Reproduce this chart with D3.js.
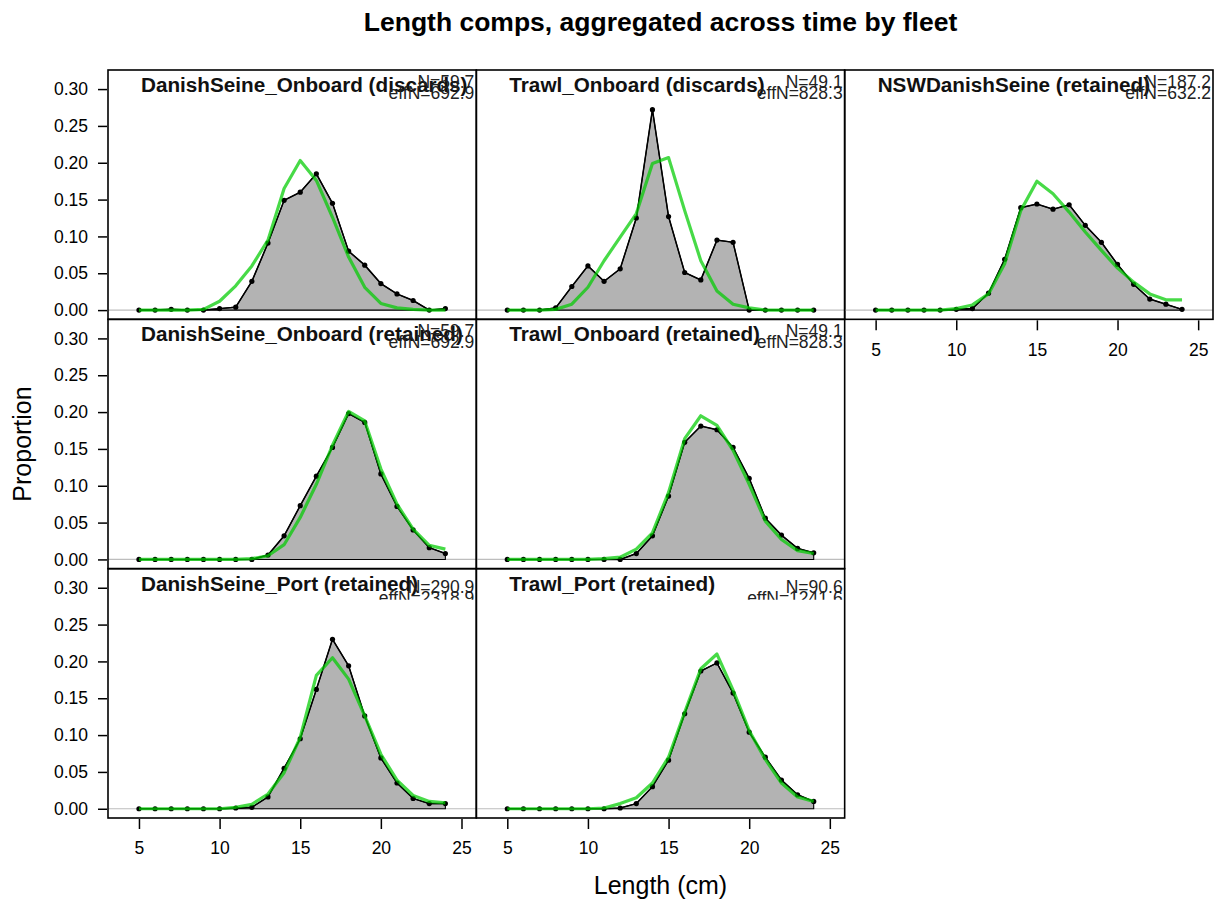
<!DOCTYPE html>
<html>
<head>
<meta charset="utf-8">
<script src="https://cdn.jsdelivr.net/npm/d3@7"></script>
<style>
  html, body { margin: 0; padding: 0; background: #ffffff; }
  svg { display: block; font-family: "Liberation Sans", Arial, Helvetica, sans-serif; }
</style>
</head>
<body>
<svg id="chart" width="1221" height="909"></svg>
<script>
// Length bins (cm)
const lengthBins = [5, 6, 7, 8, 9, 10, 11, 12, 13, 14, 15, 16, 17, 18, 19, 20, 21, 22, 23, 24];

// Panel titles, in reading order
const panelTitles = [
  "DanishSeine_Onboard (discards)",
  "Trawl_Onboard (discards)",
  "NSWDanishSeine (retained)",
  "DanishSeine_Onboard (retained)",
  "Trawl_Onboard (retained)",
  "DanishSeine_Port (retained)",
  "Trawl_Port (retained)"
];

// Sample sizes shown at the top right of each panel
const sampleN = [59.7, 49.1, 187.2, 59.7, 49.1, 290.9, 90.6];
const effectiveN = [692.9, 828.3, 632.2, 692.9, 828.3, 2318.9, 1241.6];

// Observed proportions by length bin
const obsDSOnboardDiscards = [0, 0, 0.001, 0, 0, 0.002, 0.004, 0.039, 0.091, 0.149, 0.160, 0.185, 0.145, 0.080, 0.061, 0.036, 0.022, 0.013, 0, 0.002];
const obsTrawlOnboardDiscards = [0, 0, 0, 0.003, 0.032, 0.060, 0.039, 0.056, 0.125, 0.272, 0.127, 0.051, 0.041, 0.095, 0.092, 0, 0, 0, 0, 0];
const obsNSWDanishSeine = [0, 0, 0, 0, 0, 0.001, 0.002, 0.023, 0.069, 0.139, 0.144, 0.137, 0.143, 0.115, 0.092, 0.062, 0.035, 0.015, 0.008, 0.001];
const obsDSOnboardRetained = [0, 0, 0, 0, 0, 0, 0, 0, 0.006, 0.032, 0.073, 0.113, 0.152, 0.198, 0.186, 0.116, 0.072, 0.040, 0.016, 0.008];
const obsTrawlOnboardRetained = [0, 0, 0, 0, 0, 0, 0, 0, 0.008, 0.032, 0.086, 0.159, 0.181, 0.176, 0.152, 0.110, 0.056, 0.033, 0.015, 0.009];
const obsDSPort = [0, 0, 0, 0, 0, 0, 0.001, 0.002, 0.016, 0.055, 0.095, 0.162, 0.230, 0.194, 0.126, 0.069, 0.035, 0.014, 0.007, 0.007];
const obsTrawlPort = [0, 0, 0, 0, 0, 0, 0, 0.001, 0.007, 0.030, 0.066, 0.129, 0.187, 0.198, 0.157, 0.104, 0.070, 0.039, 0.019, 0.010];

// Expected (model) proportions by length bin
const expDSOnboardDiscards = [0, 0, 0, 0, 0.001, 0.012, 0.033, 0.060, 0.095, 0.165, 0.203, 0.176, 0.126, 0.072, 0.031, 0.009, 0.003, 0.001, 0, 0];
const expTrawlOnboardDiscards = [0, 0, 0, 0.001, 0.008, 0.031, 0.067, 0.099, 0.131, 0.199, 0.207, 0.135, 0.067, 0.026, 0.008, 0.003, 0, 0, 0, 0];
const expNSWDanishSeine = [0, 0, 0, 0, 0, 0.002, 0.007, 0.022, 0.063, 0.135, 0.175, 0.158, 0.133, 0.106, 0.081, 0.057, 0.038, 0.022, 0.014, 0.014];
const expDSOnboardRetained = [0, 0, 0, 0, 0, 0, 0, 0.001, 0.005, 0.020, 0.057, 0.102, 0.155, 0.201, 0.188, 0.123, 0.075, 0.041, 0.019, 0.014];
const expTrawlOnboardRetained = [0, 0, 0, 0, 0, 0, 0.001, 0.003, 0.014, 0.036, 0.091, 0.164, 0.195, 0.182, 0.148, 0.102, 0.052, 0.027, 0.012, 0.008];
const expDSPort = [0, 0, 0, 0, 0, 0, 0.002, 0.006, 0.020, 0.049, 0.097, 0.181, 0.205, 0.176, 0.126, 0.074, 0.039, 0.018, 0.010, 0.008];
const expTrawlPort = [0, 0, 0, 0, 0, 0, 0.001, 0.007, 0.015, 0.035, 0.070, 0.131, 0.190, 0.210, 0.161, 0.106, 0.067, 0.035, 0.016, 0.010];

// Axis ticks
const xTicks = [5, 10, 15, 20, 25];
const yTicks = [0, 0.05, 0.10, 0.15, 0.20, 0.25, 0.30];

const observed = [obsDSOnboardDiscards, obsTrawlOnboardDiscards, obsNSWDanishSeine,
  obsDSOnboardRetained, obsTrawlOnboardRetained, obsDSPort, obsTrawlPort];
const expected = [expDSOnboardDiscards, expTrawlOnboardDiscards, expNSWDanishSeine,
  expDSOnboardRetained, expTrawlOnboardRetained, expDSPort, expTrawlPort];

// Grid placement (row, column) of each panel
const panelRow = [0, 0, 0, 1, 1, 2, 2];
const panelCol = [0, 1, 2, 0, 1, 0, 1];

const svg = d3.select("#chart");

const plotLeft = 108, plotRight = 1213, plotTop = 70, plotBottom = 818;
const nCols = 3, nRows = 3;
const colW = (plotRight - plotLeft) / nCols;
const rowH = (plotBottom - plotTop) / nRows;

const xDomain = [3.08, 25.92];
const yDomain = [-0.01254, 0.3259];

const fillGrey = "#b3b3b3";
const expColour = "rgba(0,204,0,0.72)";

// Overall title
svg.append("text")
  .attr("x", (plotLeft + plotRight) / 2)
  .attr("y", 31)
  .attr("text-anchor", "middle")
  .attr("font-size", 26.5)
  .attr("font-weight", "bold")
  .attr("fill", "#000")
  .text("Length comps, aggregated across time by fleet");

// Axis titles
svg.append("text")
  .attr("transform", `translate(31,${(plotTop + plotBottom) / 2}) rotate(-90)`)
  .attr("text-anchor", "middle")
  .attr("font-size", 25)
  .attr("fill", "#000")
  .text("Proportion");

svg.append("text")
  .attr("x", (plotLeft + plotRight) / 2)
  .attr("y", 894)
  .attr("text-anchor", "middle")
  .attr("font-size", 25)
  .attr("fill", "#000")
  .text("Length (cm)");

const defs = svg.append("defs");

panelTitles.forEach((title, i) => {
  const r = panelRow[i], c = panelCol[i];
  const x0 = plotLeft + c * colW, y0 = plotTop + r * rowH;
  const x = d3.scaleLinear().domain(xDomain).range([x0, x0 + colW]);
  const y = d3.scaleLinear().domain(yDomain).range([y0 + rowH, y0]);
  const g = svg.append("g");

  const pts = lengthBins.map((b, k) => ({ bin: b, obs: observed[i][k], exp: expected[i][k] }));

  // zero reference line
  g.append("line")
    .attr("x1", x0).attr("x2", x0 + colW)
    .attr("y1", y(0)).attr("y2", y(0))
    .attr("stroke", "#bdbdbd").attr("stroke-width", 1.2);

  // observed composition as a filled polygon
  const polyPts = [{ bin: lengthBins[0], v: 0 }]
    .concat(pts.map(d => ({ bin: d.bin, v: d.obs })))
    .concat([{ bin: lengthBins[lengthBins.length - 1], v: 0 }]);
  g.append("path")
    .attr("d", d3.line().x(d => x(d.bin)).y(d => y(d.v))(polyPts) + "Z")
    .attr("fill", fillGrey)
    .attr("stroke", "#000").attr("stroke-width", 1.1);

  // observed line with points
  g.append("path")
    .attr("d", d3.line().x(d => x(d.bin)).y(d => y(d.obs))(pts))
    .attr("fill", "none").attr("stroke", "#000").attr("stroke-width", 1.5);
  g.selectAll("circle.obs").data(pts).enter().append("circle")
    .attr("class", "obs")
    .attr("cx", d => x(d.bin)).attr("cy", d => y(d.obs)).attr("r", 2.6)
    .attr("fill", "#000");

  // expected composition
  g.append("path")
    .attr("d", d3.line().x(d => x(d.bin)).y(d => y(d.exp))(pts))
    .attr("fill", "none").attr("stroke", expColour)
    .attr("stroke-width", 3.2).attr("stroke-linejoin", "round");

  // panel frame
  g.append("rect")
    .attr("x", x0).attr("y", y0).attr("width", colW).attr("height", rowH)
    .attr("fill", "none").attr("stroke", "#000").attr("stroke-width", 1.6);

  // panel title
  g.append("text")
    .attr("x", x0 + 33).attr("y", y0 + 22)
    .attr("font-size", 20.7).attr("font-weight", "bold").attr("fill", "#111")
    .text(title);

  // sample sizes (the lowest row has its second line cut short)
  const nG = g.append("g");
  if (r === 2) {
    const cid = "clipN" + i;
    defs.append("clipPath").attr("id", cid).append("rect")
      .attr("x", x0).attr("y", y0).attr("width", colW).attr("height", 31);
    nG.attr("clip-path", `url(#${cid})`);
  }
  const nOff = r === 2 ? 6 : 0;
  nG.append("text")
    .attr("x", x0 + colW - 2).attr("y", y0 + 18 + nOff)
    .attr("text-anchor", "end").attr("font-size", 17.5).attr("fill", "#222")
    .text("N=" + sampleN[i].toFixed(1));
  nG.append("text")
    .attr("x", x0 + colW - 2).attr("y", y0 + 29 + nOff)
    .attr("text-anchor", "end").attr("font-size", 17.5).attr("fill", "#222")
    .text("effN=" + effectiveN[i].toFixed(1));

  // y axis on the left column
  if (c === 0) {
    const ay = svg.append("g")
      .attr("transform", `translate(${x0 - 1},0)`)
      .call(d3.axisLeft(y).tickValues(yTicks).tickFormat(d3.format(".2f")).tickSize(9).tickPadding(10));
    ay.select(".domain").remove();
    ay.selectAll("line").attr("stroke", "#000").attr("stroke-width", 1.5);
    ay.selectAll("text").attr("font-size", 17.5).attr("fill", "#000")
      .attr("font-family", "Liberation Sans, Arial, sans-serif");
  }

  // x axis below the lowest panel of each column
  const lowest = (c === 2 && r === 0) || (c < 2 && r === 2);
  if (lowest) {
    const ax = svg.append("g")
      .attr("transform", `translate(0,${y0 + rowH + 1})`)
      .call(d3.axisBottom(x).tickValues(xTicks).tickFormat(d3.format("d")).tickSize(10).tickPadding(13));
    ax.select(".domain").remove();
    ax.selectAll("line").attr("stroke", "#000").attr("stroke-width", 1.5);
    ax.selectAll("text").attr("font-size", 17.5).attr("fill", "#000")
      .attr("font-family", "Liberation Sans, Arial, sans-serif");
  }
});
</script>
</body>
</html>
